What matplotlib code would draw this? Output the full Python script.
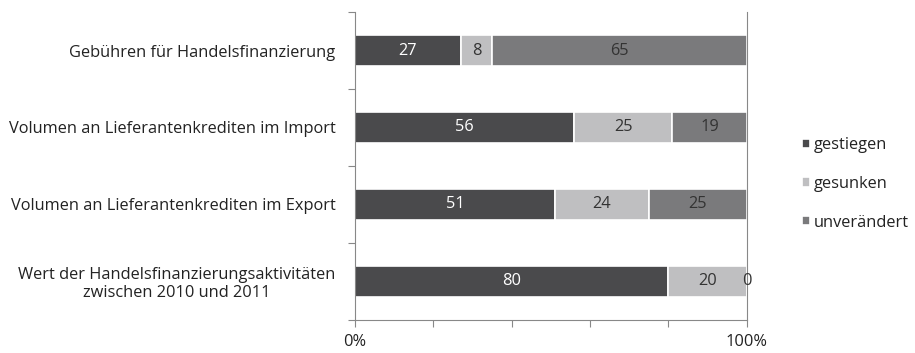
import matplotlib
matplotlib.use("Agg")
import matplotlib.pyplot as plt
import numpy as np

categories = ["Gebühren für Handelsfinanzierung",
              "Volumen an Lieferantenkrediten im Import",
              "Volumen an Lieferantenkrediten im Export",
              "Wert der Handelsfinanzierungsaktivitäten\nzwischen 2010 und 2011"]
gestiegen = [27, 56, 51, 80]
gesunken = [8, 25, 24, 20]
unveraendert = [65, 19, 25, 0]
series_names = ["gestiegen", "gesunken", "unverändert"]
colors = ["#4a4a4c", "#bfbfc1", "#7a7a7c"]
text_colors = ["white", "#333333", "#333333"]

FS = 11.8
plt.rcParams['font.family'] = ['Open Sans', 'DejaVu Sans']
fig = plt.figure(figsize=(9.15, 3.53), dpi=100)
ax = fig.add_axes([0.388, 0.0935, 0.428, 0.8725])

y = np.arange(len(categories))[::-1]
left = np.zeros(len(categories))
handles = []
for vals, name, c, tc in zip([gestiegen, gesunken, unveraendert], series_names, colors, text_colors):
    vals = np.array(vals, dtype=float)
    h = ax.barh(y, vals, left=left, height=0.4, color=c, edgecolor="white", linewidth=1.2, label=name)
    handles.append(h)
    for yi, l, v in zip(y, left, vals):
        ax.text(l + v / 2, yi, f"{int(v)}", ha="center", va="center", color=tc, fontsize=FS)
    left += vals

ax.set_xlim(0, 100)
ax.set_ylim(-0.5, 3.5)
ax.set_yticks(np.arange(-0.5, 4.0, 1.0))
ax.set_yticklabels([])
ax.set_yticks(y, minor=True)
ax.set_yticklabels(categories, minor=True, fontsize=FS, color="#222222", ha="right", multialignment="center",
                   linespacing=1.15)
ax.tick_params(axis="y", which="minor", length=0, pad=14)
ax.tick_params(axis="y", which="major", length=5, color="#888888", direction="out")
ax.set_xticks([0, 20, 40, 60, 80, 100])
ax.set_xticklabels(["0%", "", "", "", "", "100%"], fontsize=FS, color="#222222")
ax.tick_params(axis="x", length=5, color="#888888", direction="out", pad=5)
ax.spines["top"].set_visible(False)
for s in ["left", "right", "bottom"]:
    ax.spines[s].set_color("#888888")

fig.legend(handles=handles, labels=series_names, loc="upper left", bbox_to_anchor=(0.876, 0.611),
           frameon=False, fontsize=FS, handlelength=0.5, handleheight=0.5, handletextpad=0.25,
           labelspacing=1.38, labelcolor="#222222", borderaxespad=0, borderpad=0)

fig.savefig("out.png", dpi=100)
